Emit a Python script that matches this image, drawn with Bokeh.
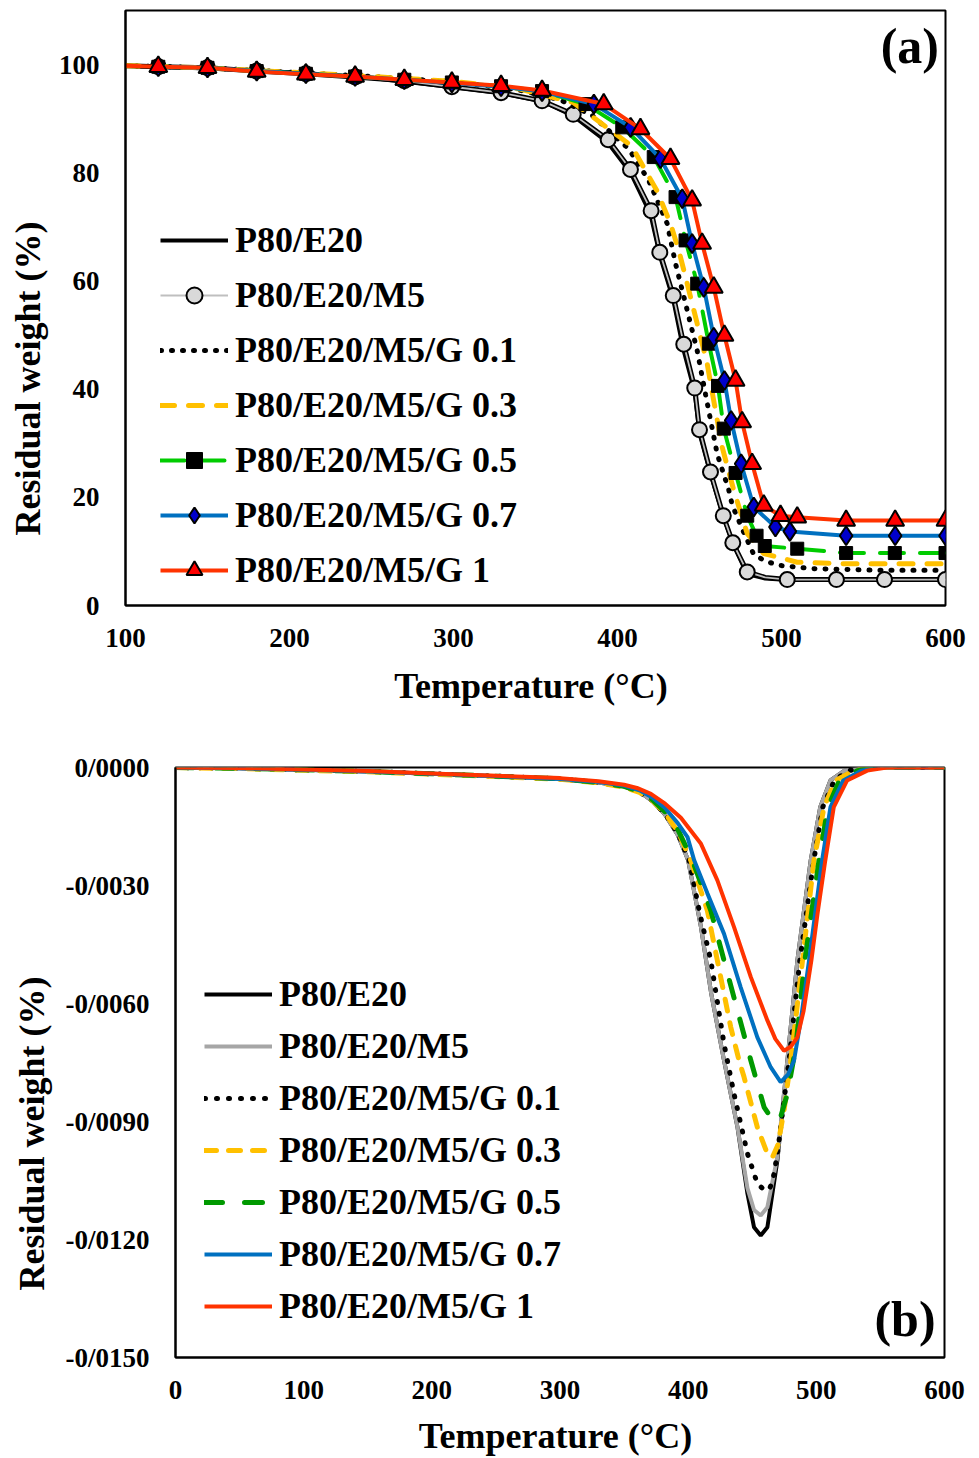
from bokeh.plotting import figure
from bokeh.layouts import column
from bokeh.models import Range1d, FixedTicker, Legend, LegendItem, Label, Title, CustomJSTickFormatter
from bokeh.embed import file_html
from bokeh.resources import INLINE

# ---------------- (a) TGA data ----------------
names = ["P80/E20", "P80/E20/M5", "P80/E20/M5/G 0.1", "P80/E20/M5/G 0.3",
         "P80/E20/M5/G 0.5", "P80/E20/M5/G 0.7", "P80/E20/M5/G 1"]

a_e20_T = [100, 150, 200, 250, 300, 330, 355, 373, 394, 408, 420, 426, 434, 440, 447, 450, 457, 465, 471, 479, 490, 504, 534, 600]
a_e20_W = [99.8, 99.3, 98.6, 97.5, 95.8, 94.7, 93.1, 90.5, 85.6, 80.0, 72.4, 64.5, 56.5, 47.5, 39.5, 31.8, 24.0, 16.0, 11.0, 5.8, 5.0, 4.7, 4.7, 4.7]

a_m5_T = [100, 120, 150, 180, 210, 240, 270, 299, 329, 354, 373, 394.3, 407.9, 420.5, 425.8, 434, 440.4, 447.1, 450, 456.7, 464.5, 470.3, 479.1, 490, 503.5, 533.5, 562.8, 600]
a_m5_W = [99.8, 99.6, 99.4, 98.8, 98.3, 97.7, 97.0, 95.9, 94.8, 93.3, 90.8, 86.1, 80.6, 73.0, 65.3, 57.3, 48.3, 40.2, 32.5, 24.7, 16.6, 11.6, 6.2, 5.2, 4.8, 4.8, 4.8, 4.8]
a_m5_mT = [120, 150, 180, 210, 240, 270, 299, 329, 354, 373, 394.3, 407.9, 420.5, 425.8, 434, 440.4, 447.1, 450, 456.7, 464.5, 470.3, 479.1, 503.5, 533.5, 562.8, 600]
a_m5_mW = [99.6, 99.4, 98.8, 98.3, 97.7, 97.0, 95.9, 94.8, 93.3, 90.8, 86.1, 80.6, 73.0, 65.3, 57.3, 48.3, 40.2, 32.5, 24.7, 16.6, 11.6, 6.2, 4.8, 4.8, 4.8, 4.8]

a_g01_T = [100, 150, 200, 250, 300, 340, 365, 384.6, 406.9, 419, 430.3, 435.4, 441.5, 448.6, 453.7, 460.8, 467.9, 470, 477, 483, 490, 499, 519.5, 560, 600]
a_g01_W = [99.8, 99.4, 98.6, 97.8, 96.8, 95.3, 93.5, 90.6, 84.4, 78.6, 70.6, 63.2, 55.8, 47.1, 39.0, 28.0, 21.3, 18.5, 13.5, 9.5, 8.2, 7.4, 6.8, 6.5, 6.5]

a_g03_T = [100, 150, 200, 250, 300, 340, 373, 408.5, 424, 432.3, 437.4, 442.5, 448.6, 454.7, 457.7, 463.8, 470.9, 479.1, 489.2, 509.6, 540, 600]
a_g03_W = [99.8, 99.4, 98.6, 97.8, 96.9, 95.5, 93.0, 85.0, 76.7, 70.6, 65.6, 59.5, 52.1, 44.7, 39.5, 29.3, 21.3, 13.3, 9.6, 8.0, 7.7, 7.7]

a_g05_T = [120, 150, 180, 210, 240, 270, 299, 329, 354, 380.5, 402.9, 422.1, 435.4, 441.5, 448.6, 455.7, 461.3, 464.8, 472, 479.1, 484.8, 489.8, 509.6, 539.4, 569.1, 600]
a_g05_W = [99.6, 99.4, 98.8, 98.3, 97.8, 97.2, 96.7, 96.0, 95.1, 92.7, 88.4, 82.9, 75.5, 67.5, 59.5, 48.4, 40.6, 32.7, 24.5, 16.6, 12.9, 11.0, 10.5, 9.7, 9.7, 9.7]

a_g07_T = [120, 150, 180, 210, 240, 270, 299, 329, 354, 385.6, 408, 426.2, 439.5, 445.5, 452.6, 458.7, 465.2, 469.3, 475.4, 483.1, 496.3, 505.1, 539.4, 569.3, 600]
a_g07_W = [99.6, 99.4, 98.8, 98.3, 97.8, 97.2, 96.6, 95.9, 95.0, 92.7, 88.4, 82.6, 75.2, 66.9, 58.8, 49.6, 41.6, 34.2, 26.2, 18.2, 14.5, 13.7, 12.9, 12.9, 12.9]

a_g1_T = [120, 150, 180, 210, 240, 270, 299, 329, 354, 391.6, 414, 432.3, 445.5, 451.6, 458.7, 465.2, 472, 476, 482.1, 489.2, 499.4, 509.6, 539.4, 569.3, 600]
a_g1_W = [99.6, 99.4, 98.7, 98.2, 97.8, 97.2, 96.7, 96.1, 95.2, 92.7, 88.1, 82.6, 74.9, 66.9, 58.8, 49.9, 41.6, 33.9, 26.2, 18.5, 16.6, 16.3, 15.7, 15.7, 15.7]

a_xticks = [100, 200, 300, 400, 500, 600]
a_yticks = [0, 20, 40, 60, 80, 100]

# ---------------- (b) DTG data ----------------
b_e20_T = [0, 50, 100, 150, 200, 250, 300, 330, 350, 362, 372, 382, 392, 400, 410, 418, 428, 438.5, 446.3, 451.4, 456.6, 461.8, 469.6, 477.4, 485.2, 495.6, 503, 511, 522, 540, 600]
b_e20_v = [0, -0.00002, -0.00006, -0.0001, -0.00016, -0.00022, -0.00029, -0.00038, -0.00048, -0.00062, -0.00085, -0.0012, -0.00172, -0.00236, -0.00406, -0.00575, -0.00745, -0.00915, -0.01084, -0.01169, -0.0119, -0.01169, -0.00999, -0.00745, -0.00491, -0.00236, -0.00101, -0.00033, -0.00008, 0, 0]

b_m5_T = [0, 50, 100, 150, 200, 250, 300, 330, 350, 362, 372, 382, 392, 400, 410, 418, 428, 438.5, 446.3, 451.4, 456.6, 461.8, 469.6, 477.4, 485.2, 495.6, 503, 511, 522, 540, 600]
b_m5_v = [0, -0.00002, -0.00006, -0.0001, -0.00016, -0.00022, -0.00029, -0.00038, -0.00048, -0.00062, -0.00085, -0.0012, -0.00172, -0.00236, -0.00406, -0.00575, -0.00745, -0.00915, -0.0107, -0.01125, -0.01139, -0.01118, -0.0099, -0.00745, -0.00491, -0.00236, -0.00101, -0.00033, -0.00008, 0, 0]

b_g01_T = [0, 50, 100, 150, 200, 250, 300, 330, 350, 362, 372, 382, 392, 400.7, 409, 417.7, 428, 435.8, 446.3, 454, 458, 463, 466, 469.6, 478.7, 487.1, 498, 505, 514, 525, 540, 600]
b_g01_v = [0, -0.00002, -0.00006, -0.0001, -0.00016, -0.00022, -0.00029, -0.00038, -0.00048, -0.00062, -0.00084, -0.00118, -0.00168, -0.00236, -0.0037, -0.00491, -0.00703, -0.0083, -0.00982, -0.01058, -0.0107, -0.01075, -0.0105, -0.00982, -0.00745, -0.00491, -0.00236, -0.00101, -0.00033, -0.00008, 0, 0]

b_g03_T = [0, 50, 100, 150, 200, 250, 300, 330, 350, 362, 372, 382, 392, 402, 415, 422.8, 433.2, 439.7, 443.6, 454, 461.8, 465.7, 470, 474.8, 481, 489.2, 498.2, 506, 515, 529, 545, 600]
b_g03_v = [0, -0.00003, -0.00007, -0.00011, -0.00017, -0.00023, -0.0003, -0.00039, -0.0005, -0.00063, -0.00084, -0.00116, -0.00163, -0.00236, -0.00364, -0.00491, -0.0066, -0.00745, -0.00787, -0.00915, -0.00982, -0.00991, -0.0096, -0.00872, -0.0072, -0.00491, -0.00236, -0.00101, -0.00033, -0.00008, 0, 0]

b_g05_T = [0, 50, 100, 150, 200, 250, 300, 330, 350, 362, 372, 382, 392, 403.3, 417.7, 428, 438.5, 448.9, 459.3, 467, 472, 477.4, 484, 491, 502.1, 509, 518, 532, 545, 600]
b_g05_v = [0, -0.00002, -0.00006, -0.0001, -0.00016, -0.00022, -0.00029, -0.00038, -0.00048, -0.00061, -0.00082, -0.00113, -0.00158, -0.00236, -0.00364, -0.00491, -0.00618, -0.00745, -0.00864, -0.00902, -0.0089, -0.0083, -0.0071, -0.00491, -0.00236, -0.00101, -0.00033, -0.00008, 0, 0]

b_g07_T = [0, 50, 100, 150, 200, 250, 300, 330, 350, 362, 372, 382, 392, 399.5, 404.7, 415, 428, 434.5, 441, 454, 464.4, 472.2, 478, 482.6, 488, 494.3, 504.5, 511, 521, 535, 550, 600]
b_g07_v = [0, -0.00002, -0.00006, -0.0001, -0.00016, -0.00022, -0.00029, -0.00037, -0.00046, -0.00058, -0.00076, -0.00103, -0.00142, -0.00177, -0.00236, -0.0032, -0.00423, -0.00491, -0.00559, -0.00686, -0.00762, -0.008, -0.0078, -0.00745, -0.0064, -0.00491, -0.00236, -0.00101, -0.00033, -0.00008, 0, 0]

b_g1_T = [0, 50, 100, 150, 200, 250, 300, 330, 350, 360, 370.9, 382, 394.3, 410, 422.8, 435.8, 448.9, 461.8, 468, 474.8, 480, 485.2, 490, 496.1, 501, 507, 513.6, 524, 539.7, 555, 600]
b_g1_v = [0, -0.00001, -0.00005, -0.00009, -0.00015, -0.00021, -0.00027, -0.00035, -0.00044, -0.00052, -0.00067, -0.00092, -0.00128, -0.00194, -0.00287, -0.00406, -0.00533, -0.00643, -0.0069, -0.0072, -0.0071, -0.00686, -0.0062, -0.00491, -0.0037, -0.00236, -0.00101, -0.00033, -0.00008, 0, 0]

b_xticks = [0, 100, 200, 300, 400, 500, 600]
b_yticks = [0, -0.003, -0.006, -0.009, -0.012, -0.015]

FONT = "Liberation Serif"


def style(p, xticks, yticks, title_standoff):
    p.xgrid.visible = False
    p.ygrid.visible = False
    p.outline_line_color = "black"
    p.outline_line_width = 2
    for ax in (p.xaxis[0], p.yaxis[0]):
        ax.axis_line_color = "black"
        ax.axis_line_width = 2
        ax.major_tick_line_color = None
        ax.minor_tick_line_color = None
        ax.major_label_text_font = FONT
        ax.major_label_text_font_style = "bold"
        ax.major_label_text_font_size = "27px"
        ax.major_label_text_color = "black"
        ax.axis_label_text_font = FONT
        ax.axis_label_text_font_style = "bold"
        ax.axis_label_text_font_size = "36px"
        ax.axis_label_text_color = "black"
    p.xaxis[0].ticker = FixedTicker(ticks=xticks)
    p.yaxis[0].ticker = FixedTicker(ticks=yticks)
    p.xaxis[0].major_label_standoff = 17
    p.yaxis[0].major_label_standoff = 20
    p.xaxis[0].axis_label = "Temperature  (°C)"
    p.xaxis[0].axis_label_standoff = title_standoff


def style_legend(lg, h, gh):
    lg.background_fill_alpha = 0
    lg.border_line_alpha = 0
    lg.padding = 0
    lg.margin = 0
    lg.spacing = 0
    lg.glyph_width = 68
    lg.glyph_height = gh
    lg.label_height = h
    lg.label_standoff = 7
    lg.label_text_font = FONT
    lg.label_text_font_style = "bold"
    lg.label_text_font_size = "36px"
    lg.label_text_color = "black"
    lg.label_text_baseline = "middle"


def ytitle(p, offset, standoff):
    t = Title(text="Residual weight (%)", align="left", offset=offset, standoff=standoff,
              vertical_align="middle", text_font=FONT, text_font_style="bold",
              text_font_size="36px", text_color="black")
    p.add_layout(t, "left")


# ---------------- figure (a) ----------------
p1 = figure(width=979, height=716, output_backend="svg", toolbar_location=None,
            x_range=Range1d(100, 600), y_range=Range1d(0, 110),
            min_border_left=125, min_border_right=34, min_border_top=10, min_border_bottom=111)
p1.frame_align = False
style(p1, a_xticks, a_yticks, 16)

LW = 4
r_e20 = p1.line(a_e20_T, a_e20_W, line_color="black", line_width=LW)
r_m5o = p1.line(a_m5_T, a_m5_W, line_color="black", line_width=5)
r_m5l = p1.line(a_m5_T, a_m5_W, line_color="#BFBFBF", line_width=1.8)
r_m5m = p1.scatter(a_m5_mT, a_m5_mW, marker="circle", size=15, fill_color="#D9D9D9", line_color="black", line_width=2)
r_g01 = p1.line(a_g01_T, a_g01_W, line_color="black", line_width=5, line_dash="1 10", line_cap="round")
r_g03 = p1.line(a_g03_T, a_g03_W, line_color="#FFC000", line_width=5, line_dash="14 14", line_cap="round")
r_g05l = p1.line(a_g05_T, a_g05_W, line_color="#00CC00", line_width=LW, line_dash="24 16", line_cap="round")
r_g05m = p1.scatter(a_g05_T, a_g05_W, marker="square", size=13, fill_color="black", line_color="black", line_width=1)
r_g07l = p1.line(a_g07_T, a_g07_W, line_color="#0070C0", line_width=LW)
r_g07m = p1.scatter(a_g07_T, a_g07_W, marker="diamond", size=19, fill_color="#0000CC", line_color="black", line_width=2)
r_g1l = p1.line([100] + a_g1_T, [99.8] + a_g1_W, line_color="#FF3300", line_width=LW)
r_g1m = p1.scatter(a_g1_T, a_g1_W, marker="triangle", size=18, fill_color="#FF0000", line_color="black", line_width=2)

leg1 = Legend(items=[
    LegendItem(label=names[0], renderers=[r_e20]),
    LegendItem(label=names[1], renderers=[r_m5l, r_m5m]),
    LegendItem(label=names[2], renderers=[r_g01]),
    LegendItem(label=names[3], renderers=[r_g03]),
    LegendItem(label=names[4], renderers=[r_g05l, r_g05m]),
    LegendItem(label=names[5], renderers=[r_g07l, r_g07m]),
    LegendItem(label=names[6], renderers=[r_g1l, r_g1m]),
], location=(35, 8))
style_legend(leg1, 55, 40)
p1.add_layout(leg1)

p1.add_layout(Label(x=596, y=103.5, text="(a)", text_font=FONT, text_font_style="bold", text_color="black",
                    text_font_size="50px", text_align="right", text_baseline="middle"))
ytitle(p1, 70, 13)

# ---------------- figure (b) ----------------
p2 = figure(width=979, height=742, output_backend="svg", toolbar_location=None,
            x_range=Range1d(0, 600), y_range=Range1d(-0.015, 0),
            min_border_left=174, min_border_right=35, min_border_top=51, min_border_bottom=101)
p2.frame_align = False
style(p2, b_xticks, b_yticks, 14)
p2.yaxis[0].formatter = CustomJSTickFormatter(
    code="const s = Math.round(Math.abs(tick) * 10000).toString().padStart(4, '0'); return (tick < -1e-9 ? '-' : '') + '0/' + s;")

q_e20 = p2.line(b_e20_T, b_e20_v, line_color="black", line_width=4)
q_m5 = p2.line(b_m5_T, b_m5_v, line_color="#A6A6A6", line_width=4)
q_g01 = p2.line(b_g01_T, b_g01_v, line_color="black", line_width=5, line_dash="1 11", line_cap="round")
q_g03 = p2.line(b_g03_T, b_g03_v, line_color="#FFC000", line_width=5, line_dash="12 12", line_cap="round")
q_g05 = p2.line(b_g05_T, b_g05_v, line_color="#009900", line_width=5, line_dash="18 22", line_cap="round")
q_g07 = p2.line(b_g07_T, b_g07_v, line_color="#0070C0", line_width=4)
q_g1 = p2.line(b_g1_T, b_g1_v, line_color="#FF3300", line_width=4)

leg2 = Legend(items=[
    LegendItem(label=names[0], renderers=[q_e20]),
    LegendItem(label=names[1], renderers=[q_m5]),
    LegendItem(label=names[2], renderers=[q_g01]),
    LegendItem(label=names[3], renderers=[q_g03]),
    LegendItem(label=names[4], renderers=[q_g05]),
    LegendItem(label=names[5], renderers=[q_g07]),
    LegendItem(label=names[6], renderers=[q_g1]),
], location=(29, 25))
style_legend(leg2, 52, 36)
p2.add_layout(leg2)

p2.add_layout(Label(x=593, y=-0.01401, text="(b)", text_font=FONT, text_font_style="bold", text_color="black",
                    text_font_size="50px", text_align="right", text_baseline="middle"))
ytitle(p2, 67, 20)

layout = column(p1, p2, spacing=0)
open("out.html", "w").write(file_html(layout, INLINE))
